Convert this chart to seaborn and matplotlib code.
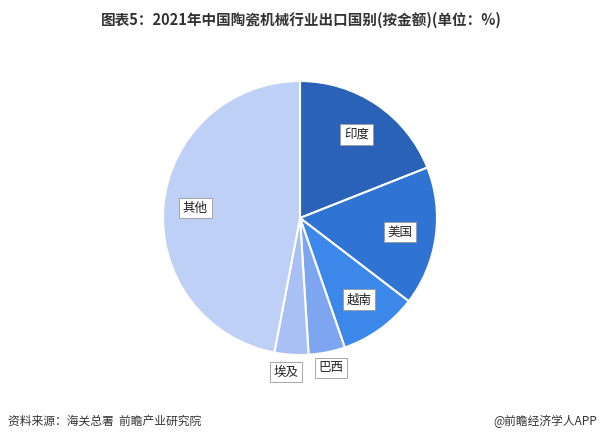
import matplotlib
matplotlib.use("Agg")
import matplotlib.pyplot as plt
import seaborn as sns

sns.set_theme(style="white")
plt.rcParams['font.family'] = ['Noto Sans CJK SC', 'DejaVu Sans']

labels = ["印度", "美国", "越南", "巴西", "埃及", "其他"]
values = [19.0, 16.4, 9.3, 4.3, 4.0, 47.0]
colors = ["#2a62b8", "#2f74d2", "#3c88ea", "#7ea6f0", "#a8c0f3", "#bed0f6"]
label_r = [0.72, 0.72, 0.72, 1.12, 1.12, 0.75]

fig = plt.figure(figsize=(6.03, 4.42), dpi=100)
ax = fig.add_axes([0.5 - 0.2285 * 442/603 * 1.0, 0.5 - 0.0, 0.0, 0.0])
ax.remove()
ax = fig.add_axes([(300 - 140) / 603, 1 - (218 + 140) / 442, 280 / 603, 280 / 442])
wedges, _ = ax.pie(values, colors=colors, startangle=90, counterclock=False,
                   wedgeprops=dict(edgecolor="white", linewidth=1.5), radius=137/140)
import numpy as np
for w, lab, r in zip(wedges, labels, label_r):
    ang = np.deg2rad((w.theta1 + w.theta2) / 2)
    x, y = r * np.cos(ang), r * np.sin(ang)
    if lab == "巴西":
        x, y = 0.22, -1.07
    if lab == "埃及":
        x, y = -0.1, -1.1
    ax.text(x, y, lab, ha="center", va="center", fontsize=9, color="#222222",
            bbox=dict(boxstyle="square,pad=0.3", fc="white", ec="#999999", lw=0.6))
ax.set_xlim(-1, 1); ax.set_ylim(-1, 1); ax.set_aspect("equal")

fig.text(0.5, 1 - 20 / 442, "图表5：2021年中国陶瓷机械行业出口国别(按金额)(单位：%)",
         ha="center", va="center", fontsize=10.5, fontweight="bold", color="#333333")
fig.text(8 / 603, 1 - 421 / 442, "资料来源：海关总署  前瞻产业研究院", ha="left", va="center",
         fontsize=8.5, color="#333333")
fig.text(597 / 603, 1 - 421 / 442, "@前瞻经济学人APP", ha="right", va="center",
         fontsize=8.5, color="#333333")
fig.savefig("out.png", dpi=100, facecolor="white")
